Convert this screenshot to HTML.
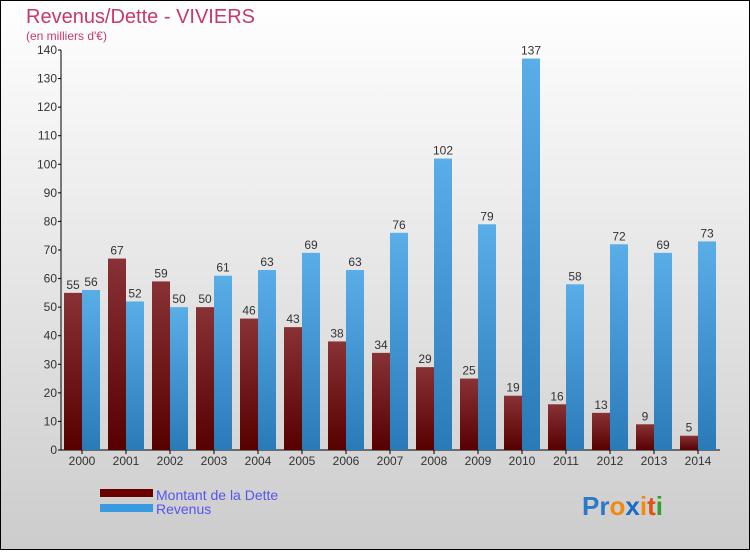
<!DOCTYPE html>
<html><head><meta charset="utf-8"><style>
html,body{margin:0;padding:0}
body{width:750px;height:550px;overflow:hidden;font-family:"Liberation Sans",sans-serif}
</style></head><body>
<svg width="750" height="550" xmlns="http://www.w3.org/2000/svg">
<defs>
<linearGradient id="bg" x1="0" y1="0" x2="0" y2="1"><stop offset="0" stop-color="#ffffff"/><stop offset="1" stop-color="#cccccc"/></linearGradient>
<linearGradient id="gd" x1="0" y1="0" x2="0" y2="1"><stop offset="0" stop-color="#883236"/><stop offset="1" stop-color="#560000"/></linearGradient>
<linearGradient id="gr" x1="0" y1="0" x2="0" y2="1"><stop offset="0" stop-color="#5aaee8"/><stop offset="1" stop-color="#2a7ab8"/></linearGradient>
</defs>
<rect x="0.5" y="0.5" width="749" height="549" fill="url(#bg)" stroke="#000"/>
<text x="26" y="23" font-size="20" fill="#c8386a">Revenus/Dette - VIVIERS</text>
<text x="26" y="40" font-size="12" fill="#c8386a">(en milliers d'€)</text>
<g id="axes"></g>
<g id="bars"></g>
<rect x="100" y="489" width="53" height="8" fill="#6a0000"/>
<text x="156" y="500" font-size="14" fill="#5555ee">Montant de la Dette</text>
<rect x="100" y="504" width="53" height="8" fill="#3a9ae0"/>
<text x="156" y="514" font-size="14" fill="#5555ee">Revenus</text>
<text x="582" y="515" font-size="26" font-weight="bold"><tspan fill="#2a7ac8">Pr</tspan><tspan fill="#f08a10">o</tspan><tspan fill="#1a6ac8">x</tspan><tspan fill="#f08a10">i</tspan><tspan fill="#e05010">t</tspan><tspan fill="#30a030">i</tspan></text>
</svg>
<script>
const years=["2000","2001","2002","2003","2004","2005","2006","2007","2008","2009","2010","2011","2012","2013","2014"];
const dette=[55,67,59,50,46,43,38,34,29,25,19,16,13,9,5];
const revenus=[56,52,50,61,63,69,63,76,102,79,137,58,72,69,73];
const ticks=[0,10,20,30,40,50,60,70,80,90,100,110,120,130,140];
const NS="http://www.w3.org/2000/svg";
const y=v=>450-v*400/140;
const xc=i=>82+i*44;
function mk(tag,attrs,parent,txt){const e=document.createElementNS(NS,tag);for(const k in attrs)e.setAttribute(k,attrs[k]);if(txt!==undefined)e.textContent=txt;parent.appendChild(e);return e;}
const ax=document.getElementById('axes'),bg=document.getElementById('bars');
let e=mk('line',{x1:61,y1:50,x2:61,y2:450,stroke:'#000'},ax);


e=mk('line',{x1:61,y1:450,x2:720,y2:450,stroke:'#000'},ax);


ticks.forEach(t=>{
 let l=mk('line',{x1:58,y1:y(t),x2:61,y2:y(t),stroke:'#000'},ax);
 
 
 let tx=mk('text',{x:57,y:y(t)+4,'font-size':12,fill:'#333','text-anchor':'end'},ax,t);
 
 
});
years.forEach((yr,i)=>{
 let l=mk('line',{x1:xc(i),y1:450,x2:xc(i),y2:454,stroke:'#000'},ax);
 
 
 let tx=mk('text',{x:xc(i),y:465,'font-size':12,fill:'#333','text-anchor':'middle'},ax,yr);
 
 
 let b=mk('rect',{x:xc(i)-18,y:y(dette[i]),width:18,height:450-y(dette[i]),fill:'url(#gd)'},bg);
 
 
 let r=mk('rect',{x:xc(i),y:y(revenus[i]),width:18,height:450-y(revenus[i]),fill:'url(#gr)'},bg);
 
 
 let v1=mk('text',{x:xc(i)-9,y:y(dette[i])-4,'font-size':12,fill:'#333','text-anchor':'middle'},bg,dette[i]);
 
 
 let v2=mk('text',{x:xc(i)+9,y:y(revenus[i])-4,'font-size':12,fill:'#333','text-anchor':'middle'},bg,revenus[i]);
 
 
});
</script>
</body></html>
